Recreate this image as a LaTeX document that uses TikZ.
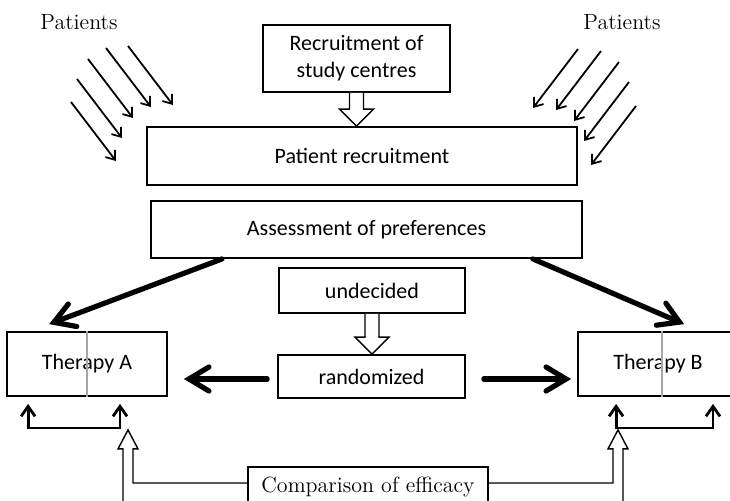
\documentclass[tikz,border=0pt]{standalone}
\usepackage{fontspec}
\newfontfamily\boxfont{Carlito}
\usetikzlibrary{arrows.meta,calc}

% hollow arrow pointing down from one box to the next
\newcommand{\hollowdown}[2]{%
  \draw[hollow] let \p1=(#1.south), \p2=(#2.north) in
    (\x1-3.5pt,\y1) -- (\x1-3.5pt,\y2+8.5pt) -- (\x1-8.5pt,\y2+8.5pt) -- (\x1,\y2)
    -- (\x1+8.5pt,\y2+8.5pt) -- (\x1+3.5pt,\y2+8.5pt) -- (\x1+3.5pt,\y1);}

\tikzset{
  box/.style={draw, line width=0.9pt, fill=white, align=center, inner sep=0pt,
    font=\boxfont\fontsize{11}{13.5}\selectfont},
  serifbox/.style={box, font=\fontsize{11}{13.5}\selectfont},
  label/.style={font=\fontsize{11}{13.5}\selectfont},
  big/.style={line width=2.6pt, line cap=round,
    -{Straight Barb[length=10pt,width=12pt,line cap=round]}},
  brk/.style={line width=1.4pt,
    {Straight Barb[length=5pt,width=7pt]}-{Straight Barb[length=5pt,width=7pt]}},
  pat/.style={line width=0.9pt, -{Straight Barb[length=4pt,width=6pt]}},
  hollow/.style={line width=0.7pt, fill=white},
  divider/.style={gray!70, line width=0.7pt}
}

\begin{document}
\begin{tikzpicture}[x=0.5pt, y=-0.5pt]
  \useasboundingbox (0,0) rectangle (730,500);
  \clip (0,0) rectangle (730,500);

  % boxes
  \node[box, minimum width=93.5pt, minimum height=33.5pt] (centres) at (356.5,58.5)
    {Recruitment of\\study centres};
  \node[box, minimum width=215pt, minimum height=29pt] (patrec) at (362,156)
    {Patient recruitment};
  \node[box, minimum width=215.5pt, minimum height=28.5pt] (prefs) at (366.5,229.5)
    {Assessment of preferences};
  \node[box, minimum width=93pt, minimum height=22.5pt] (undec) at (372,290.5) {undecided};
  \node[box, minimum width=93.5pt, minimum height=21.5pt] (rand) at (371.5,376.5) {randomized};
  \node[box, minimum width=80pt, minimum height=32pt] (therA) at (87,364) {Therapy A};
  \node[box, minimum width=80pt, minimum height=32pt] (therB) at (658,364) {Therapy B};
  \node[serifbox, minimum width=120pt, minimum height=20pt] (compare) at (368,487)
    {Comparison of efficacy};
  \node[label] (patL) at (79,22) {Patients};
  \node[label] (patR) at (622,22) {Patients};

  % dividing lines
  \draw[divider] (therA.north) -- (therA.south);
  \draw[divider] ($(therB.north)+(4,0)$) -- ($(therB.south)+(4,0)$);

  % incoming patients
  \foreach \sx/\sy in {-8/80, -2/57, 9/37, 27/26, 49/24}
    \draw[pat] ($(patL)+(\sx,\sy)$) -- ++(45,59);
  \foreach \sx/\sy in {-44/27, -21/29, -3/40, 7/60, 14/84}
    \draw[pat] ($(patR)+(\sx,\sy)$) -- ++(-45,59);

  % hollow arrows
  \hollowdown{centres}{patrec}
  \hollowdown{undec}{rand}

  % allocation
  \draw[big] ($(prefs.south west)+(72,0)$) -- ($(therA.north west)+(43,-7)$);
  \draw[big] ($(prefs.south east)+(-50,0)$) -- ($(therB.north west)+(107,-7)$);
  \draw[big] ($(rand.west)+(-10,2.5)$) -- ($(therA.east)+(16,15)$);
  \draw[big] ($(rand.east)+(18,2.5)$) -- ($(therB.west)+(-6,15)$);

  % brackets under the therapies
  \draw[brk] ($(therA.south west)+(22,7)$) -- ++(0,24) -| ($(therA.south)+(33,7)$);
  \draw[brk] ($(therB.south west)+(39,7)$) -- ++(0,24) -| ($(therB.south)+(55,7)$);

  % comparison
  \coordinate (tipA) at ($(therA.south)+(41,33)$);
  \coordinate (tipB) at ($(therB.south)+(-40,33)$);
  \draw[hollow] ($(compare.west)+(0,-4)$) -- ($(tipA |- compare.west)+(5,-4)$)
    -- ($(tipA)+(5,19)$) -- ($(tipA)+(10,19)$) -- (tipA) -- ($(tipA)+(-10,19)$)
    -- ($(tipA)+(-5,19)$) -- ($(tipA)+(-5,90)$);
  \draw[hollow] ($(compare.east)+(0,-4)$) -- ($(tipB |- compare.east)+(-5,-4)$)
    -- ($(tipB)+(-5,19)$) -- ($(tipB)+(-10,19)$) -- (tipB) -- ($(tipB)+(10,19)$)
    -- ($(tipB)+(5,19)$) -- ($(tipB)+(5,90)$);
\end{tikzpicture}
\end{document}
